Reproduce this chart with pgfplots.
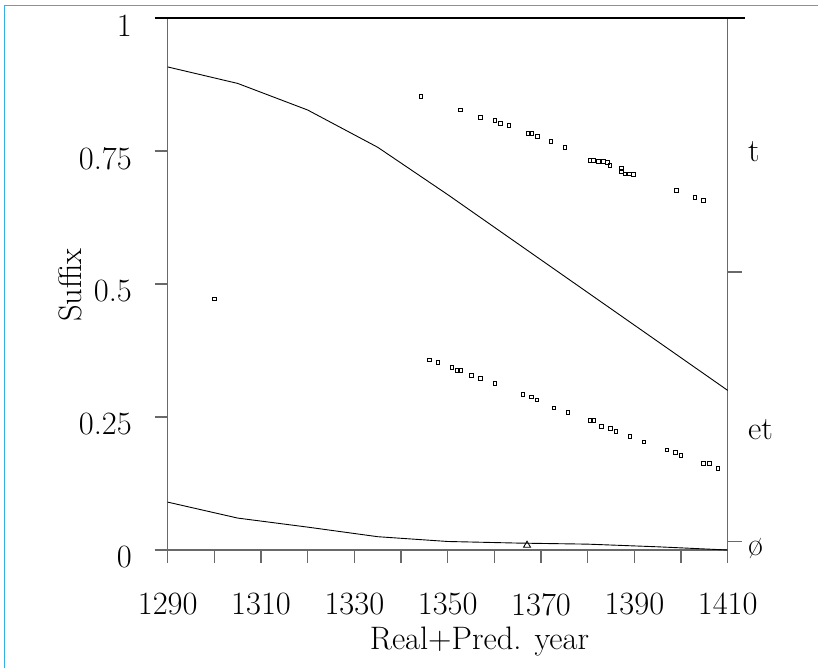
\documentclass[border=0pt]{standalone}
\usepackage{pgfplots}
\pgfplotsset{compat=1.18}
\definecolor{frameblue}{RGB}{52,176,228}
\definecolor{axgray}{RGB}{105,105,105}
\newcommand{\bigfont}{\fontsize{32.5bp}{39bp}\selectfont}
\begin{document}
\begin{tikzpicture}
\useasboundingbox (0,0) rectangle (818bp,668bp);
\draw[frameblue, line width=1.5bp] (4.5bp,0) -- (4.5bp,662.5bp) -- (818bp,662.5bp);
\begin{axis}[
  at={(167.7bp,118bp)}, anchor=south west,
  scale only axis, width=560bp, height=532bp,
  xmin=1290, xmax=1410, ymin=0, ymax=1,
  clip=false,
  axis line style={axgray, line width=1.3bp},
  xtick={1290,1310,...,1410},
  minor xtick={1300,1320,...,1400},
  ytick={0,0.25,0.5,0.75,1},
  xtick pos=bottom, ytick pos=left,
  tick align=outside,
  major tick length=13bp, minor tick length=13bp,
  tick style={axgray, line width=1.3bp},
  /pgf/number format/1000 sep={},
  /pgf/number format/assume math mode=true,
  tick label style={font=\bigfont},
  xticklabel style={anchor=north, inner sep=0pt, yshift=-30bp},
  yticklabel style={anchor=east, inner sep=0pt, xshift=-22.7bp, yshift=-7.5bp},
]
\addplot[black, line width=0.9bp] coordinates {
 (1290,0.908)(1305,0.877)(1320,0.827)(1335,0.757)(1350,0.668)
 (1365,0.576)(1380,0.484)(1395,0.392)(1410,0.300)};
\addplot[black, line width=0.9bp] coordinates {
 (1290,0.090)(1305,0.060)(1320,0.043)(1335,0.025)(1350,0.016)
 (1365,0.013)(1380,0.011)(1395,0.006)(1410,0.000)};
% t series
\addplot[only marks, mark=square, mark size=1.8bp, black, mark options={line width=1bp}] coordinates {
 (1344.3,0.852)(1352.8,0.827)(1357.0,0.8126)(1360.1,0.807)(1361.3,0.802)
 (1363.1,0.7976)(1367.2,0.7825)(1368.1,0.7825)(1369.2,0.7769)(1372.1,0.7675)
 (1375.1,0.757)(1380.5,0.7318)(1381.2,0.7318)(1382.3,0.7306)(1383.4,0.7306)
 (1384.2,0.728)(1384.8,0.7224)(1387.2,0.7175)(1387.2,0.711)(1388.0,0.7068)
 (1389.0,0.7068)(1389.8,0.7062)(1399.0,0.6754)(1403.0,0.6622)(1404.8,0.6566)};
% et series
\addplot[only marks, mark=square, mark size=1.8bp, black, mark options={line width=1bp}] coordinates {
 (1300.0,0.4718)
 (1346.1,0.3571)(1347.9,0.3521)(1350.9,0.3427)(1352.1,0.337)(1352.8,0.337)
 (1355.1,0.3276)(1357.0,0.322)(1360.1,0.3126)(1366.1,0.2927)(1367.9,0.2876)
 (1369.1,0.282)(1372.8,0.2669)(1375.8,0.2581)(1380.6,0.243)(1381.3,0.243)
 (1383.0,0.2325)(1384.9,0.228)(1386.1,0.2231)(1389.1,0.213)(1392.1,0.203)
 (1397.0,0.188)(1398.8,0.1829)(1400.0,0.1773)(1404.8,0.1622)(1406.1,0.1622)
 (1407.9,0.1528)};
% zero series
\addplot[only marks, mark=triangle, mark size=4bp, black, mark options={line width=0.9bp}] coordinates {
 (1367.0,0.009)};
\draw[black, line width=1.5bp] ([xshift=-12.7bp]rel axis cs:0,1) -- ([xshift=17bp]rel axis cs:1,1);
\draw[axgray, line width=1.3bp] (axis cs:1410,0.0156) -- ([xshift=14bp]axis cs:1410,0.0156);
\draw[axgray, line width=1.3bp] (axis cs:1410,0.5226) -- ([xshift=14bp]axis cs:1410,0.5226);
\node[anchor=west, font=\bigfont, inner sep=0pt] at ([xshift=20.3bp]axis cs:1410,0.748) {t};
\node[anchor=west, font=\bigfont, inner sep=0pt] at ([xshift=20.3bp]axis cs:1410,0.2256) {et};
\node[anchor=west, font=\bigfont, inner sep=0pt] at ([xshift=20.3bp]axis cs:1410,0.002) {ø};
\end{axis}
\node[rotate=90, font=\bigfont] at (70bp,383bp) {Suffix};
\node[anchor=base, font=\bigfont, inner sep=0pt] at (479.5bp,19bp) {Real+Pred. year};
\end{tikzpicture}
\end{document}
